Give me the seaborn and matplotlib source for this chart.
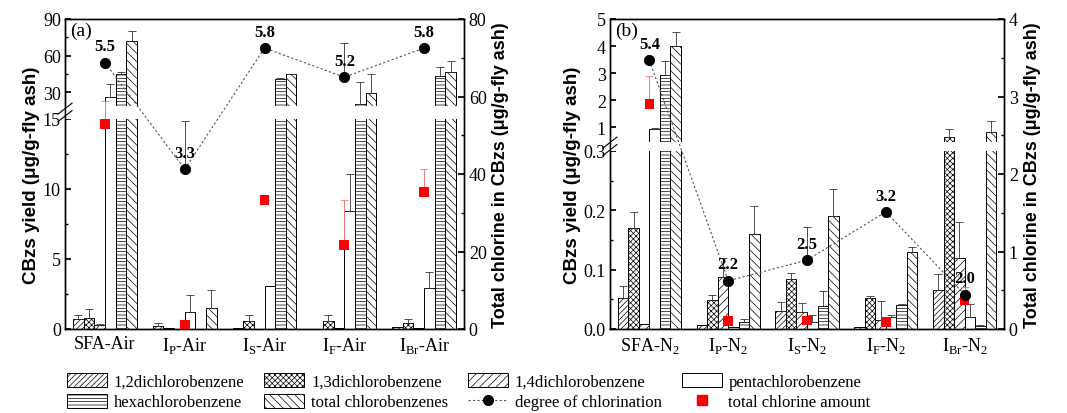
import numpy as np
import pandas as pd
import matplotlib
matplotlib.use("Agg")
import matplotlib.pyplot as plt
import seaborn as sns
from matplotlib.lines import Line2D
from matplotlib.patches import Patch, Rectangle
from matplotlib.ticker import FixedLocator, MultipleLocator

# ---- data ----
compounds = ["1,2dichlorobenzene", "1,3dichlorobenzene", "1,4dichlorobenzene",
             "pentachlorobenzene", "hexachlorobenzene", "total chlorobenzenes"]

air_groups = ["SFA-Air", r"I$_\mathrm{P}$-Air", r"I$_\mathrm{S}$-Air",
              r"I$_\mathrm{F}$-Air", r"I$_\mathrm{Br}$-Air"]
n2_groups = [r"SFA-N$_\mathrm{2}$", r"I$_\mathrm{P}$-N$_\mathrm{2}$", r"I$_\mathrm{S}$-N$_\mathrm{2}$",
             r"I$_\mathrm{F}$-N$_\mathrm{2}$", r"I$_\mathrm{Br}$-N$_\mathrm{2}$"]

# yields, one row per compound (same order as compounds), ug/g-fly ash
air_yield = [
    [0.7, 0.2, 0.05, 0.03, 0.15],
    [0.8, 0.05, 0.6, 0.6, 0.43],
    [0.3, 0.03, 0.03, 0.05, 0.1],
    [26.0, 1.2, 3.05, 8.4, 2.9],
    [45.0, 0.03, 40.7, 20.2, 43.0],
    [72.0, 1.5, 44.8, 29.2, 46.5],
]
air_yield_err = [
    [0.3, 0.2, 0, 0, 0],
    [0.6, 0, 0.4, 0.4, 0.3],
    [0.05, 0, 0, 0, 0],
    [10.5, 1.2, 0, 2.7, 1.2],
    [1.5, 0, 0.5, 18.0, 7.5],
    [8.0, 1.3, 0.4, 15.5, 9.0],
]
air_chlorine = [52.9, 1.0, 33.3, 21.7, 35.4]
air_chlorine_err = [6.0, 0, 0, 11.6, 6.0]
air_degree = [5.5, 3.3, 5.8, 5.2, 5.8]
air_degree_err = [0, 1.0, 0, 0.7, 0]

n2_yield = [
    [0.053, 0.006, 0.03, 0.004, 0.066],
    [0.17, 0.049, 0.085, 0.053, 0.62],
    [0.008, 0.088, 0.028, 0.015, 0.12],
    [0.92, 0.003, 0.012, 0.02, 0.02],
    [2.93, 0.012, 0.038, 0.04, 0.005],
    [4.01, 0.16, 0.19, 0.13, 0.81],
]
n2_yield_err = [
    [0.02, 0, 0.016, 0, 0.027],
    [0.028, 0.009, 0.009, 0.002, 0.3],
    [0, 0.032, 0.015, 0.032, 0.06],
    [0.05, 0, 0.012, 0.004, 0.022],
    [0.53, 0.005, 0.026, 0.002, 0.001],
    [0.5, 0.047, 0.046, 0.008, 0.4],
]
n2_chlorine = [2.9, 0.1, 0.11, 0.09, 0.37]
n2_chlorine_err = [0.37, 0, 0, 0, 0.17]
n2_degree = [5.4, 2.2, 2.5, 3.2, 2.0]
n2_degree_err = [0, 0, 0.48, 0, 0]

hatches = ["//////", "xxxxxx", "////", "", "-----", "\\\\\\\\"]

sns.set_theme(style="ticks", rc={"axes.edgecolor": "black", "xtick.color": "black",
                                 "ytick.color": "black", "text.color": "black",
                                 "axes.labelcolor": "black", "axes.linewidth": 1.0})
plt.rcParams["font.family"] = ["Liberation Serif", "DejaVu Serif"]
plt.rcParams["mathtext.fontset"] = "custom"
plt.rcParams["mathtext.rm"] = "Liberation Serif"
plt.rcParams["hatch.linewidth"] = 0.5


def broken_scale(brk, top, f_brk, f_jump, f_top=310.0):
    # piecewise linear axis: [0, brk] stretched, [brk, top] squeezed
    k1 = f_brk / brk
    k2 = (f_top - f_jump) / (top - brk)

    def fwd(v):
        v = np.asarray(v, dtype=float)
        return np.where(v <= brk, v * k1, f_jump + (v - brk) * k2)

    def inv(f):
        f = np.asarray(f, dtype=float)
        return np.where(f <= f_brk, f / k1,
                        np.where(f < f_jump, brk, brk + (f - f_jump) / k2))
    return fwd, inv


def draw_panel(ax, groups, yields, yield_err, chlorine, chlorine_err, degree, degree_err,
               brk, top, f_brk, f_jump, left_major, left_labels, left_minor,
               right_top, right_step, deg_lim, tag):
    rows = []
    for comp, vals in zip(compounds, yields):
        for g, v in zip(groups, vals):
            rows.append((g, comp, v))
    df = pd.DataFrame(rows, columns=["group", "compound", "value"])

    sns.barplot(data=df, x="group", y="value", hue="compound", order=groups,
                hue_order=compounds, palette=["white"] * 6, saturation=1,
                edgecolor="black", linewidth=0.7, width=0.8, gap=0,
                errorbar=None, legend=False, ax=ax)
    for cont, h, errs in zip(ax.containers, hatches, yield_err):
        for bar, e in zip(cont, errs):
            bar.set_hatch(h)
            if e > 0:
                xc = bar.get_x() + bar.get_width() / 2
                ax.errorbar(xc, bar.get_height(), yerr=[[0], [e]], fmt="none",
                            ecolor="#333333", elinewidth=0.6, capsize=3, capthick=0.6)

    fwd, inv = broken_scale(brk, top, f_brk, f_jump)
    ax.set_yscale("function", functions=(fwd, inv))
    ax.set_ylim(0, top)
    ax.yaxis.set_major_locator(FixedLocator(left_major))
    ax.yaxis.set_minor_locator(FixedLocator(left_minor))
    ax.set_yticklabels(left_labels)
    ax.set_xlabel("")
    ax.set_ylabel("CBzs yield (\u03bcg/g-fly ash)", fontfamily="Liberation Sans",
                  fontweight="bold", fontsize=13.5, labelpad=2)
    ax.tick_params(axis="y", which="major", direction="in", length=4, labelsize=13, pad=3)
    ax.tick_params(axis="y", which="minor", direction="in", length=2.5)
    ax.tick_params(axis="x", length=0, labelsize=13, pad=4)

    # break band across the bars + break marks on the left spine
    y0 = (f_brk + 0.5) / 310.0
    y1 = (f_jump + 4.0) / 310.0
    ax.add_patch(Rectangle((0.002, y0), 0.996, y1 - y0, transform=ax.transAxes,
                           facecolor="white", edgecolor="none", zorder=4))
    ym = (y0 + y1) / 2
    for dy in (-0.012, 0.012):
        ax.plot([-0.018, 0.018], [ym + dy - 0.018, ym + dy + 0.018], transform=ax.transAxes,
                color="black", lw=0.8, clip_on=False, zorder=6)

    ax.text(0.012, 0.99, tag, transform=ax.transAxes, ha="left", va="top", fontsize=14)

    xpos = np.arange(len(groups))

    # total chlorine (right axis)
    ax2 = ax.twinx()
    ax2.errorbar(xpos, chlorine, yerr=[np.zeros(len(xpos)), chlorine_err], fmt="none",
                 ecolor="#ee7777", elinewidth=0.7, capsize=3, capthick=0.6)
    sns.scatterplot(x=xpos, y=chlorine, marker="s", color="#ff0000", s=48,
                    edgecolor="none", ax=ax2, zorder=3)
    ax2.set_ylim(0, right_top)
    ax2.yaxis.set_major_locator(MultipleLocator(right_step))
    ax2.yaxis.set_minor_locator(MultipleLocator(right_step / 2))
    ax2.tick_params(axis="y", which="major", direction="in", length=4, labelsize=13)
    ax2.tick_params(axis="y", which="minor", direction="in", length=2.5)
    ax2.set_ylabel("Total chlorine in CBzs (\u03bcg/g-fly ash)", fontfamily="Liberation Sans",
                   fontweight="bold", fontsize=13, labelpad=4)

    # degree of chlorination (hidden axis)
    ax3 = ax.twinx()
    ax3.axis("off")
    sns.lineplot(x=xpos, y=degree, color="#555555", linestyle=(0, (2, 2)), linewidth=0.8,
                 ax=ax3)
    ax3.errorbar(xpos, degree, yerr=[np.zeros(len(xpos)), degree_err], fmt="none",
                 ecolor="#333333", elinewidth=0.6, capsize=3, capthick=0.6)
    sns.scatterplot(x=xpos, y=degree, marker="o", color="black", s=55, edgecolor="black",
                    ax=ax3, zorder=4)
    for x, d in zip(xpos, degree):
        ax3.annotate(f"{d:.1f}", (x, d), xytext=(0, 6), textcoords="offset points",
                     ha="center", va="bottom", fontweight="bold", fontsize=12)
    ax3.set_ylim(*deg_lim)

    for a in (ax, ax2, ax3):
        a.set_xlim(-0.5, len(groups) - 0.5)


fig = plt.figure(figsize=(10.67, 4.14), dpi=100)
ax_a = fig.add_axes([65 / 1067, 84 / 414, 399 / 1067, 310 / 414])
ax_b = fig.add_axes([610 / 1067, 84 / 414, 394 / 1067, 310 / 414])

draw_panel(ax_a, air_groups, air_yield, air_yield_err, air_chlorine, air_chlorine_err,
           air_degree, air_degree_err, brk=15, top=90, f_brk=210, f_jump=218.7,
           left_major=[0, 5, 10, 15, 30, 60, 90],
           left_labels=["0", "5", "10", "15", "30", "60", "90"],
           left_minor=[2.5, 7.5, 12.5, 45, 75],
           right_top=80, right_step=20, deg_lim=(0, 6.4), tag="(a)")

draw_panel(ax_b, n2_groups, n2_yield, n2_yield_err, n2_chlorine, n2_chlorine_err,
           n2_degree, n2_degree_err, brk=0.3, top=5, f_brk=178, f_jump=183,
           left_major=[0, 0.1, 0.2, 0.3, 1, 2, 3, 4, 5],
           left_labels=["0.0", "0.1", "0.2", "0.3", "1", "2", "3", "4", "5"],
           left_minor=[0.05, 0.15, 0.25],
           right_top=4, right_step=1, deg_lim=(1.5, 6.0), tag="(b)")

handles = [Patch(facecolor="white", edgecolor="black", hatch=h, linewidth=0.7, label=c)
           for c, h in zip(compounds, hatches)]
handles.append(Line2D([0], [0], color="#555555", linestyle=(0, (2, 2)), linewidth=0.8,
                      marker="o", markerfacecolor="black", markeredgecolor="black",
                      markersize=7, label="degree of chlorination"))
handles.append(Line2D([0], [0], linestyle="none", marker="s", color="#ff0000",
                      markersize=6.5, label="total chlorine amount"))
order = [0, 4, 1, 5, 2, 6, 3, 7]
fig.legend(handles=[handles[i] for i in order], loc="lower left",
           bbox_to_anchor=(0.052, -0.022), ncol=4, frameon=False, fontsize=12,
           handlelength=2.4, handleheight=0.9, columnspacing=1.2, handletextpad=0.4,
           labelspacing=0.25, borderpad=0.2)

fig.savefig("out.png", dpi=100)
